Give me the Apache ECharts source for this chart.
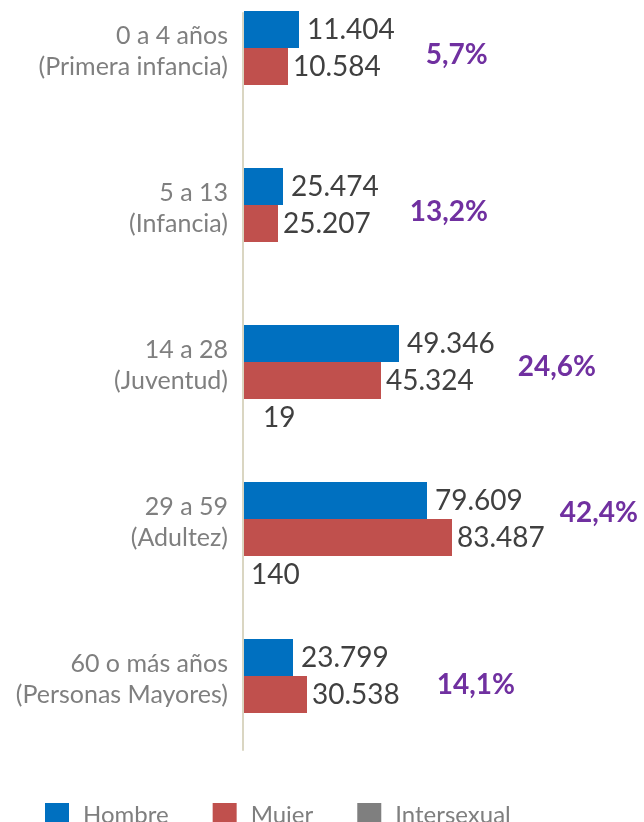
<!DOCTYPE html>
<html>
<head>
<meta charset="utf-8">
<script src="https://cdn.jsdelivr.net/npm/echarts@6/dist/echarts.min.js"></script>
<style>
  html, body { margin: 0; padding: 0; background: #fff; overflow: hidden; }
  /* chart sits 12px above the page so the first bar group starts near the top */
  #chart { width: 644px; height: 834px; margin-top: -12px; }
</style>
</head>
<body>
<div id="chart"></div>
<script>
// categories, top to bottom
var categories = [
    '0 a 4 años\n(Primera infancia)',
    '5 a 13\n(Infancia)',
    '14 a 28\n(Juventud)',
    '29 a 59\n(Adultez)',
    '60 o más años\n(Personas Mayores)'
];

// printed values
var hombre      = [11404, 25474, 49346, 79609, 23799];
var mujer       = [10584, 25207, 45324, 83487, 30538];
var intersexual = [null, null, 19, 140, null];
var porcentaje  = [5.7, 13.2, 24.6, 42.4, 14.1];

// bar lengths as drawn in the picture (share of the plot width, %)
var hombreBar      = [13.75, 9.75, 38.75, 45.75, 12.25];
var mujerBar       = [11, 8.5, 34.25, 52, 15.75];
var intersexualBar = [null, null, 0, 0, null];

var FONT = 'Lato';
var VALUE_COLOR = '#404040';

function fmt(v) {
    return String(v).replace(/\B(?=(\d{3})+(?!\d))/g, '.');
}
function fmtPct(v) {
    return v.toFixed(1).replace('.', ',') + '%';
}

// percent label placement next to the Mujer label: [left gap, lift]
var pctGap  = [45, 39, 44, 15, 37];
var pctLift = [23, 23, 27, 49, 19];

var mujerRich = {
    v: { fontFamily: FONT, fontSize: 28, color: VALUE_COLOR }
};
for (let i = 0; i < porcentaje.length; i++) {
    mujerRich['p' + i] = {
        fontFamily: FONT, fontSize: 28, fontWeight: 'bold', color: '#7030A0',
        padding: [0, 0, pctLift[i], pctGap[i]]
    };
}

var interGap = [0, 0, 19, 7, 0];

var chart = echarts.init(document.getElementById('chart'), null, { renderer: 'canvas' });

var option = {
    animation: false,
    color: ['#0070C0', '#C0504D', '#7F7F7F'],
    grid: [
        { left: 244, right: 0, top: 0, height: 785 },
        // just the vertical axis line
        { left: 243, width: 1, top: 25, height: 737 }
    ],
    legend: {
        left: 40,
        top: 810,
        icon: 'rect',
        itemWidth: 24,
        itemHeight: 24,
        itemGap: 44,
        textStyle: { fontFamily: FONT, fontSize: 24, color: '#7F7F7F', padding: [0, 0, 0, 9] },
        data: ['Hombre', 'Mujer', 'Intersexual']
    },
    xAxis: [
        { type: 'value', min: 0, max: 100, show: false, gridIndex: 0 },
        { type: 'value', min: 0, max: 1, show: false, gridIndex: 1 }
    ],
    yAxis: [
        {
            type: 'category',
            gridIndex: 0,
            inverse: true,
            data: categories,
            axisLine: { show: false },
            axisTick: { show: false },
            splitLine: { show: false },
            axisLabel: {
                align: 'right',
                margin: 16,
                // two text lines plus an empty spacer line, so the text sits a bit above the band centre
                formatter: function (value) {
                    var lines = value.split('\n');
                    return '{a|' + lines[0] + '}\n{a|' + lines[1] + '}\n{s| }';
                },
                rich: {
                    a: { fontFamily: FONT, fontSize: 25, lineHeight: 31, color: '#7F7F7F', align: 'right' },
                    s: { fontFamily: FONT, fontSize: 10, lineHeight: 30, align: 'right' }
                }
            }
        },
        {
            type: 'category',
            gridIndex: 1,
            data: categories,
            axisLine: { show: true, lineStyle: { color: '#DAD6C2', width: 2 } },
            axisTick: { show: false },
            axisLabel: { show: false },
            splitLine: { show: false }
        }
    ],
    series: [
        {
            name: 'Hombre',
            type: 'bar',
            barWidth: 37,
            barGap: '0%',
            data: hombreBar,
            label: {
                show: true,
                position: 'right',
                distance: 8,
                fontFamily: FONT,
                fontSize: 28,
                color: VALUE_COLOR,
                formatter: p => fmt(hombre[p.dataIndex])
            }
        },
        {
            name: 'Mujer',
            type: 'bar',
            barWidth: 37,
            barGap: '0%',
            data: mujerBar,
            label: {
                show: true,
                position: 'right',
                distance: 5,
                formatter: p => '{v|' + fmt(mujer[p.dataIndex]) + '}{p' + p.dataIndex + '|' +
                    fmtPct(porcentaje[p.dataIndex]) + '}',
                rich: mujerRich
            }
        },
        {
            name: 'Intersexual',
            type: 'bar',
            barWidth: 37,
            barGap: '0%',
            data: intersexualBar.map((v, i) => v == null ? null : {
                value: v,
                label: { distance: interGap[i] }
            }),
            label: {
                show: true,
                position: 'right',
                fontFamily: FONT,
                fontSize: 28,
                color: VALUE_COLOR,
                formatter: p => intersexual[p.dataIndex] == null ? '' : fmt(intersexual[p.dataIndex])
            }
        }
    ]
};

chart.setOption(option);
</script>
</body>
</html>
